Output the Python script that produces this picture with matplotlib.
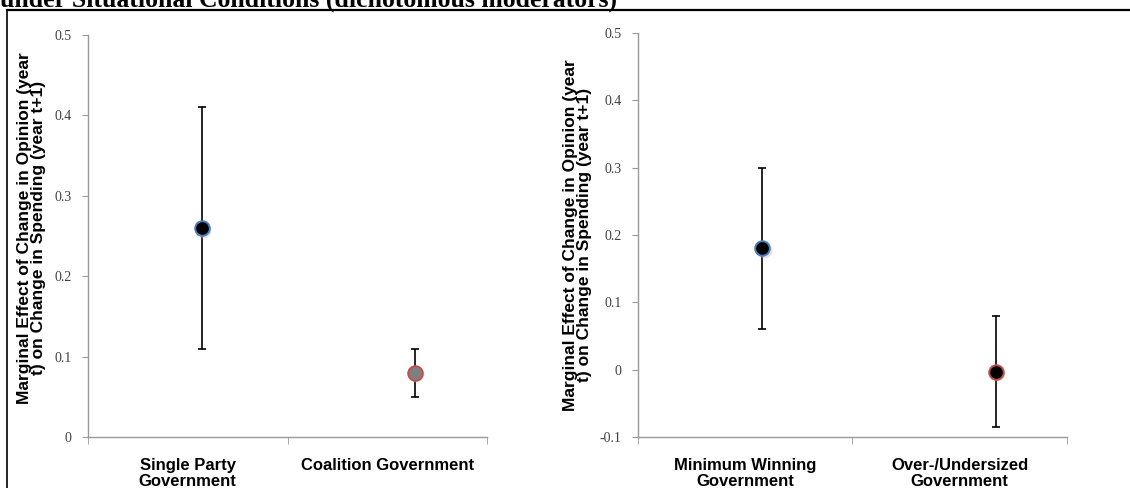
import matplotlib
matplotlib.use("Agg")
import matplotlib.pyplot as plt
from matplotlib.lines import Line2D

# Marginal effects with confidence bounds, one panel per moderator
left_labels = ["Single Party\nGovernment", "Coalition Government"]
left_effect = [0.26, 0.08]
left_low = [0.11, 0.05]
left_high = [0.41, 0.11]

right_labels = ["Minimum Winning\nGovernment", "Over-/Undersized\nGovernment"]
right_effect = [0.18, -0.003]
right_low = [0.06, -0.085]
right_high = [0.30, 0.08]

title = "under Situational Conditions (dichotomous moderators)"
ylabel = "Marginal Effect of Change in Opinion (year\nt) on Change in Spending (year t+1)"

fig = plt.figure(figsize=(11.3, 4.88), dpi=100)

ax1 = fig.add_axes([0.0779, 0.1045, 0.3531, 0.8237])
ax2 = fig.add_axes([0.5646, 0.1045, 0.3796, 0.8278])

# markers sit a little right of each category centre
shift1 = [0.07, 0.14]
shift2 = [0.08, 0.17]

styles1 = [("black", "#4a7ebb"), ("#7f7f7f", "#c0504d")]
styles2 = [("black", "#4a7ebb"), ("black", "#c0504d")]


def draw_panel(ax, labels, eff, lo, hi, shift, styles, ylim, yticks):
    for i in range(len(eff)):
        x = i + shift[i]
        ax.errorbar([x], [eff[i]],
                    yerr=[[eff[i] - lo[i]], [hi[i] - eff[i]]],
                    fmt="none", ecolor="black", elinewidth=1.2,
                    capsize=3.2, capthick=1.2, zorder=2)
        face, edge = styles[i]
        ax.plot([x + 0.006], [eff[i] - 0.002], "o", ms=11.5, color="#bbbbbb",
                alpha=0.4, mec="none", zorder=2.5)
        ax.plot([x], [eff[i]], "o", ms=10.5, mfc=face, mec=edge, mew=1.4,
                zorder=3)

    ax.set_xlim(-0.5, 1.5)
    ax.set_ylim(*ylim)
    ax.set_yticks(yticks)
    ax.set_yticklabels([f"{t:g}" for t in yticks], family="Liberation Serif",
                       fontsize=10, color="#404040")
    ax.set_xticks([0, 1])
    ax.set_xticklabels(labels, family="Liberation Sans", fontweight="bold",
                       fontsize=12, linespacing=1.1)
    ax.set_xticks([-0.5, 0.5, 1.5], minor=True)
    ax.tick_params(axis="x", which="major", length=0, pad=15)
    ax.tick_params(axis="x", which="minor", length=5, color="#999999")
    ax.tick_params(axis="y", length=4, color="#999999", pad=8)

    for side in ["top", "right"]:
        ax.spines[side].set_visible(False)
    for side in ["left", "bottom"]:
        ax.spines[side].set_color("#999999")
        ax.spines[side].set_linewidth(1.0)

    ax.set_ylabel(ylabel, family="Liberation Sans", fontweight="bold",
                  fontsize=12.5, linespacing=0.95)
    ax.set_facecolor("none")


draw_panel(ax1, left_labels, left_effect, left_low, left_high, shift1,
           styles1, (0, 0.5), [0, 0.1, 0.2, 0.3, 0.4, 0.5])
draw_panel(ax2, right_labels, right_effect, right_low, right_high, shift2,
           styles2, (-0.1, 0.5), [-0.1, 0, 0.1, 0.2, 0.3, 0.4, 0.5])
ax1.yaxis.set_label_coords(-0.105, 0.52)
ax2.yaxis.set_label_coords(-0.107, 0.5)

# frame around the figure and the clipped heading above it
fig.add_artist(Line2D([0.006, 1.0], [1 - 10 / 488, 1 - 10 / 488],
                      color="black", lw=1.6, transform=fig.transFigure))
fig.add_artist(Line2D([0.0065, 0.0065], [0, 1 - 10 / 488],
                      color="black", lw=1.2, transform=fig.transFigure))
fig.text(0.0, 1 - 7 / 488, title, family="Liberation Serif",
         fontweight="bold", fontsize=18.5, va="baseline", ha="left")

fig.savefig("out.png", dpi=100)
